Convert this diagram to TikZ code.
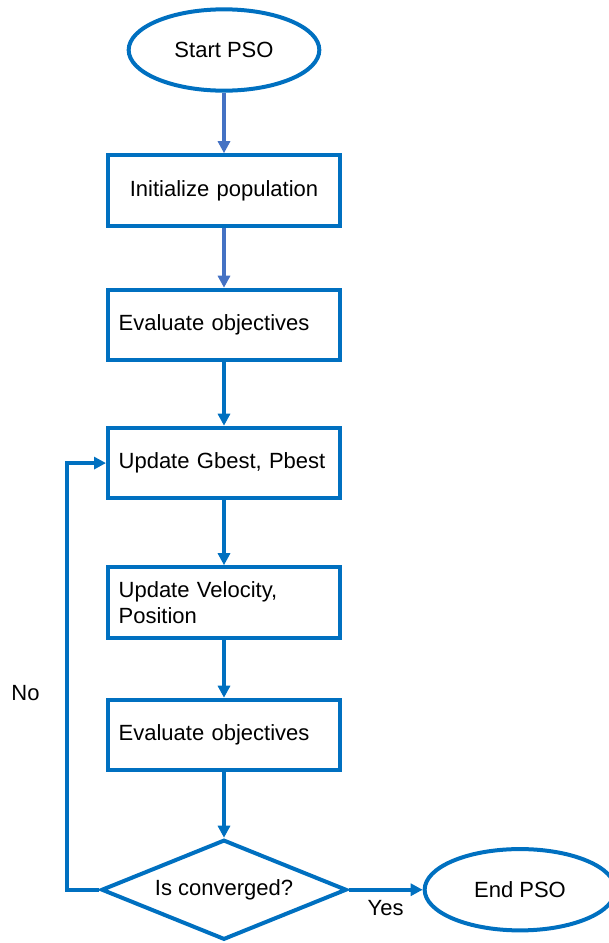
\documentclass[tikz,border=0pt]{standalone}
\usepackage{fontspec}
\setmainfont{Liberation Sans}
\usetikzlibrary{arrows.meta,positioning,shapes.geometric}
\definecolor{boxblue}{HTML}{0070C0}
\definecolor{lineblue}{HTML}{4472C4}

\begin{document}
\begin{tikzpicture}[x=0.75pt,y=-0.75pt,on grid,node distance=104pt,
      font=\fontsize{16.5}{19}\selectfont,>={Triangle[width=9pt,length=9pt]},
      term/.style={ellipse,draw=boxblue,line width=3pt,minimum width=143pt,minimum height=61pt},
      proc/.style={rectangle,draw=boxblue,line width=3pt,minimum width=174pt,
        minimum height=53pt,text width=158pt,inner xsep=8pt,align=left},
      test/.style={diamond,draw=boxblue,line width=3pt,aspect=2.5,inner sep=0pt,
        minimum width=184pt,minimum height=75pt},
      flow/.style={->,draw=boxblue,line width=3pt},
      flowlt/.style={->,draw=lineblue,line width=3pt}]
  \useasboundingbox (0,0) rectangle (609,943);
  \node[term] (start) at (224,50) {Start PSO};
  \node[proc,align=center] (init) [below=105.4pt of start] {Initialize population};
  \node[proc] (eval1) [below=100.9pt of init] {Evaluate objectives};
  \node[proc] (gbest) [below=103.5pt of eval1] {Update Gbest, Pbest};
  \node[proc] (vel) [below=104.6pt of gbest] {Update Velocity,\\Position};
  \node[proc] (eval2) [below=99.4pt of vel] {Evaluate objectives};
  \node[test] (conv) [below=116pt of eval2] {Is converged?};
  \node[term] (end) [right=222pt of conv] {End PSO};
  \path
    (start) edge[flowlt] (init)
    (init) edge[flowlt] (eval1)
    (eval1) edge[flow] (gbest)
    (gbest) edge[flow] (vel)
    (vel) edge[flow] (eval2)
    (eval2) edge[flow] (conv)
    (conv) edge[flow] node[below=3pt] (yes) {Yes} (end);
  \draw[flow] (conv.west) -- ++(-24pt,0) |- node[pos=0.23,left=16pt] (no) {No} (gbest.west);
\end{tikzpicture}
\end{document}
